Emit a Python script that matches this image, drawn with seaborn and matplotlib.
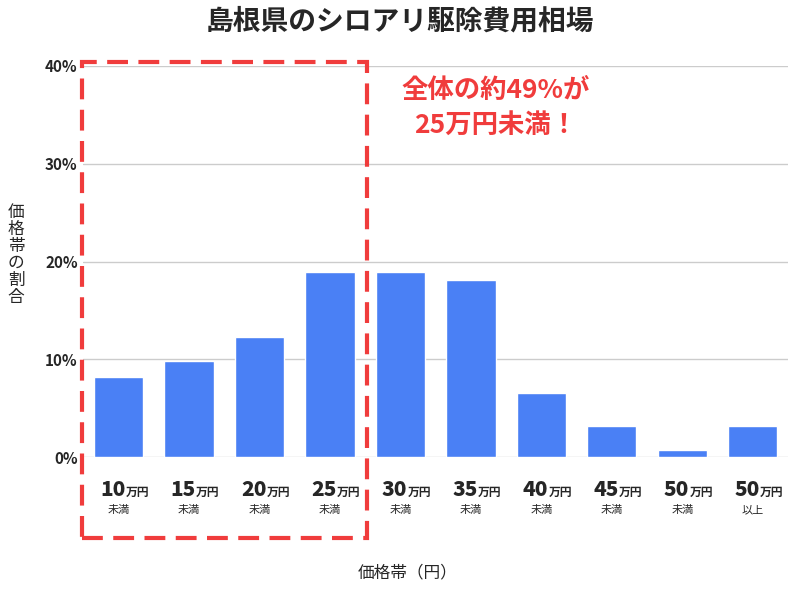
import matplotlib
matplotlib.use("Agg")
import matplotlib.pyplot as plt
import seaborn as sns
import pandas as pd
from matplotlib.patches import Rectangle

amounts = ["10", "15", "20", "25", "30", "35", "40", "45", "50", "50"]
suffix = ["未満"] * 9 + ["以上"]
shares = [8.2, 9.8, 12.3, 18.9, 18.9, 18.1, 6.6, 3.2, 0.7, 3.2]
yticks = [0, 10, 20, 30, 40]

sns.set_theme(style="white")
plt.rcParams['font.family'] = ['Noto Sans CJK JP', 'DejaVu Sans']

cats = [f"{a}万円{s}" for a, s in zip(amounts, suffix)]
df = pd.DataFrame({"cat": cats, "share": shares})

fig = plt.figure(figsize=(8, 6), dpi=100)
ax = fig.add_axes([0.104, 0.238, 0.881, 0.652])
sns.barplot(data=df, x="cat", y="share", color="#4a80f5", saturation=1, width=0.7, ax=ax)
ax.set_ylim(0, 40)
ax.set_xlim(-0.5, 9.5)
ax.set_yticks(yticks)
ax.set_yticklabels([f"{v}%" for v in yticks], fontsize=11, fontweight="bold")
ax.yaxis.grid(True, color="#cccccc", lw=1)
ax.set_axisbelow(True)
for s in ax.spines.values():
    s.set_visible(False)
ax.tick_params(axis="y", length=0, pad=4)
ax.set_xticks([])
ax.set_xlabel("")
ax.set_ylabel("")

tr = ax.get_xaxis_transform()
for i, (a, s) in enumerate(zip(amounts, suffix)):
    ax.text(i + 0.1, -0.084, a, transform=tr, ha="right", va="center", fontsize=15, fontweight="black")
    ax.text(i + 0.1, -0.09, "万円", transform=tr, ha="left", va="center", fontsize=8.5, fontweight="bold")
    ax.text(i, -0.136, s, transform=tr, ha="center", va="center", fontsize=8)

fig.patches.append(Rectangle((0.1025, 0.103), 0.356, 0.793, transform=fig.transFigure,
                             fill=False, edgecolor="#f03c3c", lw=3, linestyle=(0, (5, 2.5))))

fig.text(0.5, 0.965, "島根県のシロアリ駆除費用相場", ha="center", va="center", fontsize=20, fontweight="bold")
fig.text(0.62, 0.82, "全体の約49%が\n25万円未満！", ha="center", va="center", fontsize=19,
         fontweight="bold", color="#f03c3c", linespacing=1.35)
fig.text(0.51, 0.045, "価格帯（円）", ha="center", va="center", fontsize=12)
fig.text(0.02, 0.575, "\n".join("価格帯の割合"), ha="center", va="center", fontsize=12, linespacing=1.0)

fig.savefig("out.png", dpi=100)
